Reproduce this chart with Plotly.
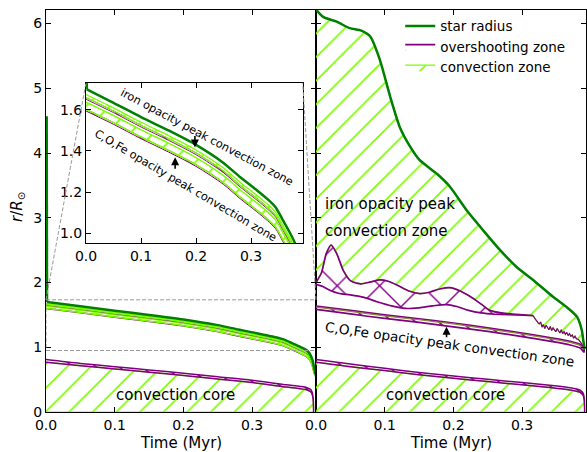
import plotly.graph_objects as go

# ---------------- data ----------------
# Left panel model (also shown magnified in the inset)
t_left = [0.0, 0.05, 0.1, 0.15, 0.2, 0.25, 0.28, 0.31, 0.33, 0.345, 0.358, 0.37, 0.38, 0.385, 0.388, 0.39]
star_left_jump_t = [0.001, 0.0015]
star_left_jump_r = [4.57, 1.70]
star_left_t = [0.0015, 0.05, 0.1, 0.15, 0.2, 0.25, 0.28, 0.31, 0.33, 0.345, 0.358, 0.37, 0.38, 0.385, 0.388, 0.39, 0.392, 0.393]
star_left_r = [1.70, 1.635, 1.565, 1.50, 1.43, 1.342, 1.273, 1.21, 1.165, 1.125, 1.063, 1.005, 0.95, 0.88, 0.80, 0.70, 0.60, 0.55]
fe_top_left = [1.675, 1.61, 1.54, 1.475, 1.405, 1.317, 1.248, 1.185, 1.14, 1.10, 1.038, 0.98, 0.925, 0.855, 0.775, 0.675]
fe_bot_left = [1.66, 1.595, 1.525, 1.46, 1.39, 1.302, 1.233, 1.17, 1.125, 1.085, 1.023, 0.965, 0.91, 0.84, 0.76, 0.66]
fe_ov_left = [1.652, 1.587, 1.517, 1.452, 1.382, 1.294, 1.225, 1.162, 1.117, 1.077, 1.015, 0.957, 0.902, 0.832, 0.752, 0.652]
co_top_left = [1.638, 1.573, 1.503, 1.438, 1.368, 1.28, 1.211, 1.148, 1.103, 1.063, 1.001, 0.943, 0.888, 0.818, 0.738, 0.638]
co_bot_left = [1.603, 1.538, 1.468, 1.403, 1.333, 1.245, 1.176, 1.113, 1.068, 1.028, 0.966, 0.908, 0.853, 0.783, 0.703, 0.603]
co_ov_left = [1.595, 1.53, 1.46, 1.395, 1.325, 1.237, 1.168, 1.105, 1.06, 1.02, 0.958, 0.90, 0.845, 0.775, 0.695, 0.595]
core_left_t = [0.0, 0.05, 0.1, 0.15, 0.2, 0.25, 0.3, 0.35, 0.37, 0.38, 0.386, 0.388, 0.389, 0.3895]
core_ov_left = [0.81, 0.75, 0.70, 0.65, 0.60, 0.545, 0.49, 0.42, 0.395, 0.375, 0.34, 0.28, 0.20, 0.0]
core_cv_left = [0.77, 0.715, 0.665, 0.615, 0.565, 0.51, 0.455, 0.385, 0.36, 0.34, 0.305, 0.25, 0.17, 0.0]

# Right panel model
star_right_t = [0.0, 0.001, 0.011, 0.03, 0.049, 0.066, 0.079, 0.093, 0.108, 0.122, 0.137, 0.151, 0.176, 0.195,
                0.219, 0.243, 0.268, 0.292, 0.316, 0.345, 0.365, 0.38, 0.387, 0.389, 0.391]
star_right_r = [6.4, 6.21, 6.10, 6.03, 5.93, 5.89, 5.80, 5.44, 4.87, 4.40, 4.10, 3.89, 3.68, 3.48,
                3.12, 2.81, 2.50, 2.24, 2.04, 1.78, 1.62, 1.47, 1.26, 1.11, 0.97]
fe_bot_right_t = [0.0, 0.008, 0.015, 0.022, 0.03, 0.04, 0.05, 0.065, 0.08, 0.093, 0.105, 0.12, 0.135, 0.151,
                  0.165, 0.18, 0.195, 0.21, 0.225, 0.24, 0.253, 0.27, 0.29, 0.316]
fe_bot_right = [1.98, 2.15, 2.45, 2.58, 2.45, 2.18, 2.03, 1.98, 2.01, 2.04, 2.02, 1.95, 1.87, 1.83,
                1.85, 1.90, 1.92, 1.87, 1.78, 1.67, 1.57, 1.53, 1.51, 1.49]
ov_bot_right_t = [0.0, 0.01, 0.02, 0.034, 0.05, 0.07, 0.09, 0.11, 0.13, 0.15, 0.17, 0.19, 0.205, 0.222,
                  0.24, 0.26, 0.29, 0.316]
ov_bot_right = [1.98, 1.94, 1.88, 1.83, 1.81, 1.77, 1.70, 1.64, 1.60, 1.61, 1.64, 1.66, 1.63, 1.57,
                1.53, 1.51, 1.50, 1.49]
noise_right_t = [0.316, 0.319, 0.321, 0.323, 0.325, 0.327, 0.329, 0.331, 0.333, 0.335, 0.337, 0.339, 0.341,
                 0.343, 0.345, 0.347, 0.349, 0.351, 0.353, 0.355, 0.357, 0.359, 0.361, 0.363, 0.365,
                 0.367, 0.369, 0.371, 0.373, 0.375, 0.377, 0.379, 0.382, 0.385, 0.387, 0.389]
noise_right = [1.49, 1.43, 1.41, 1.38, 1.36, 1.39, 1.31, 1.35, 1.29, 1.34, 1.30, 1.27, 1.32, 1.26,
               1.30, 1.27, 1.24, 1.29, 1.25, 1.22, 1.27, 1.21, 1.24, 1.20, 1.23, 1.18, 1.21, 1.17,
               1.19, 1.14, 1.17, 1.13, 1.12, 1.08, 1.05, 1.00]
co_right_t = [0.0, 0.05, 0.1, 0.15, 0.2, 0.25, 0.3, 0.34, 0.37, 0.385, 0.39]
co_a_right = [1.635, 1.57, 1.50, 1.44, 1.375, 1.30, 1.22, 1.15, 1.09, 1.04, 0.98]
co_b_right = [1.62, 1.555, 1.485, 1.425, 1.36, 1.285, 1.205, 1.135, 1.075, 1.025, 0.965]
co_c_right = [1.585, 1.515, 1.445, 1.385, 1.315, 1.245, 1.165, 1.095, 1.035, 0.985, 0.925]
core_right_t = [0.0, 0.05, 0.1, 0.15, 0.2, 0.25, 0.3, 0.34, 0.36, 0.375, 0.385, 0.389, 0.3905, 0.391]
core_ov_right = [0.81, 0.74, 0.675, 0.61, 0.555, 0.505, 0.455, 0.415, 0.39, 0.365, 0.335, 0.29, 0.20, 0.0]
core_cv_right = [0.77, 0.70, 0.64, 0.575, 0.52, 0.47, 0.42, 0.38, 0.355, 0.33, 0.30, 0.255, 0.17, 0.0]

# axes / ticks
x_ticks = [0.0, 0.1, 0.2, 0.3]
x_tick_text = ["0.0", "0.1", "0.2", "0.3"]
y_ticks = [0, 1, 2, 3, 4, 5, 6]
y_tick_text = ["0", "1", "2", "3", "4", "5", "6"]
inset_y_ticks = [1.0, 1.2, 1.4, 1.6]
inset_y_text = ["1.0", "1.2", "1.4", "1.6"]
x_range = [0, 0.393]
y_range = [0, 6.21]
inset_x_range = [0, 0.394]
inset_y_range = [0.95, 1.733]

# ---------------- styling ----------------
GREEN = "#008000"
PURPLE = "#800080"
LIME = "#7CFC00"
FONT = "DejaVu Sans"
HATCH = 16.7
SOL = 0.1

fig = go.Figure()


def band(t, upper, lower):
    return list(t) + list(t)[::-1], list(upper) + list(lower)[::-1]


def conv(t, up, lo, xa, ya, show=False, lw=1.5, smooth=True):
    xs, ys = band(t, up, lo)
    fig.add_trace(go.Scatter(
        x=xs, y=ys, xaxis=xa, yaxis=ya, mode="lines", fill="toself",
        fillcolor="rgba(0,0,0,0)",
        fillpattern=dict(shape="/", size=HATCH, solidity=SOL, fgcolor=LIME,
                         bgcolor="rgba(0,0,0,0)", fgopacity=1),
        line=dict(color=LIME, width=lw, shape="spline" if smooth else "linear", smoothing=0.8),
        name="convection zone", showlegend=show, legendrank=3, hoverinfo="skip"))


def over(t, up, lo, xa, ya, show=False, lw=1.5, smooth=True):
    xs, ys = band(t, up, lo)
    fig.add_trace(go.Scatter(
        x=xs, y=ys, xaxis=xa, yaxis=ya, mode="lines", fill="toself",
        fillcolor="rgba(0,0,0,0)",
        fillpattern=dict(shape="\\", size=HATCH, solidity=SOL, fgcolor=PURPLE,
                         bgcolor="rgba(0,0,0,0)", fgopacity=1),
        line=dict(color=PURPLE, width=lw, shape="spline" if smooth else "linear", smoothing=0.8),
        name="overshooting zone", showlegend=show, legendrank=2, hoverinfo="skip"))


def left_model(xa, ya):
    core_zero = [0.0] * len(core_left_t)
    conv(core_left_t, core_cv_left, core_zero, xa, ya, lw=1.2, smooth=False)
    over(core_left_t, core_ov_left, core_cv_left, xa, ya)
    over(t_left, co_bot_left, co_ov_left, xa, ya, lw=1.0)
    conv(t_left, co_top_left, co_bot_left, xa, ya, lw=1.5)
    over(t_left, fe_bot_left, fe_ov_left, xa, ya, lw=0.9)
    conv(t_left, fe_top_left, fe_bot_left, xa, ya, lw=1.3)
    fig.add_trace(go.Scatter(x=star_left_jump_t, y=star_left_jump_r, xaxis=xa, yaxis=ya,
                             mode="lines", line=dict(color=GREEN, width=2.5),
                             showlegend=False, hoverinfo="skip"))
    fig.add_trace(go.Scatter(x=star_left_t, y=star_left_r, xaxis=xa, yaxis=ya, mode="lines",
                             line=dict(color=GREEN, width=2.5, shape="spline", smoothing=0.6),
                             showlegend=False, hoverinfo="skip"))


# left main panel
left_model("x", "y")

# right panel
core_zero_r = [0.0] * len(core_right_t)
conv(core_right_t, core_cv_right, core_zero_r, "x2", "y2", lw=1.2, smooth=False)
over(core_right_t, core_ov_right, core_cv_right, "x2", "y2")
# iron opacity peak convection zone: between its bottom boundary and the surface
fe_x = list(star_right_t) + list(noise_right_t)[::-1] + list(fe_bot_right_t)[::-1]
fe_y = list(star_right_r) + list(noise_right)[::-1] + list(fe_bot_right)[::-1]
fig.add_trace(go.Scatter(
    x=fe_x, y=fe_y, xaxis="x2", yaxis="y2", mode="lines", fill="toself",
    fillcolor="rgba(0,0,0,0)",
    fillpattern=dict(shape="/", size=HATCH, solidity=SOL, fgcolor=LIME,
                     bgcolor="rgba(0,0,0,0)", fgopacity=1),
    line=dict(color=LIME, width=1.2), name="convection zone", showlegend=True,
    legendrank=3, hoverinfo="skip"))
# overshooting zone below the iron zone
ov_x = list(fe_bot_right_t) + list(ov_bot_right_t)[::-1]
ov_y = list(fe_bot_right) + list(ov_bot_right)[::-1]
fig.add_trace(go.Scatter(
    x=ov_x, y=ov_y, xaxis="x2", yaxis="y2", mode="lines", fill="toself",
    fillcolor="rgba(0,0,0,0)",
    fillpattern=dict(shape="x", size=30, solidity=0.09, fgcolor=PURPLE,
                     bgcolor="rgba(0,0,0,0)", fgopacity=1),
    line=dict(color=PURPLE, width=1.7, shape="spline", smoothing=0.8),
    name="overshooting zone", showlegend=True, legendrank=2, hoverinfo="skip"))
fig.add_trace(go.Scatter(x=noise_right_t, y=noise_right, xaxis="x2", yaxis="y2", mode="lines",
                         line=dict(color=PURPLE, width=1.2), showlegend=False, hoverinfo="skip"))
# C,O,Fe zone
over(co_right_t, co_a_right, co_c_right, "x2", "y2", lw=1.7)
fig.add_trace(go.Scatter(x=co_right_t, y=co_b_right, xaxis="x2", yaxis="y2", mode="lines",
                         line=dict(color="#8a8a3a", width=1.2, shape="spline", smoothing=0.8),
                         showlegend=False, hoverinfo="skip"))
fig.add_trace(go.Scatter(x=star_right_t, y=star_right_r, xaxis="x2", yaxis="y2", mode="lines",
                         line=dict(color=GREEN, width=2.5, shape="spline", smoothing=0.6),
                         name="star radius", showlegend=True, legendrank=1, hoverinfo="skip"))

# inset (magnified left model)
left_model("x3", "y3")

# ---------------- axes ----------------
axis_common = dict(showline=True, linecolor="black", linewidth=1, mirror="allticks",
                   ticks="inside", ticklen=5, tickwidth=1, tickcolor="black",
                   showgrid=False, zeroline=False,
                   tickfont=dict(family=FONT, size=14, color="black"))

fig.update_layout(
    xaxis=dict(domain=[0, 0.5], range=x_range, anchor="y", tickvals=x_ticks,
               ticktext=x_tick_text, **axis_common),
    yaxis=dict(domain=[0, 1], range=y_range, anchor="x", tickvals=y_ticks,
               ticktext=y_tick_text, **axis_common),
    xaxis2=dict(domain=[0.5, 1], range=x_range, anchor="y2", tickvals=x_ticks,
                ticktext=x_tick_text, **axis_common),
    yaxis2=dict(domain=[0, 1], range=y_range, anchor="x2", tickvals=y_ticks,
                showticklabels=False, **axis_common),
    xaxis3=dict(domain=[0.0741, 0.4754], range=inset_x_range, anchor="y3", tickvals=x_ticks,
                ticktext=x_tick_text, **axis_common),
    yaxis3=dict(domain=[0.4197, 0.8192], range=inset_y_range, anchor="x3",
                tickvals=inset_y_ticks, ticktext=inset_y_text, **axis_common),
)

# ---------------- zoom indicator ----------------
dash = dict(color="#9a9a9a", width=1, dash="4px,2px")
y_top_paper = inset_y_range[1] / y_range[1]
fig.add_shape(type="rect", xref="x", yref="y", x0=0, x1=inset_x_range[1],
              y0=inset_y_range[0], y1=inset_y_range[1], line=dash, layer="above")
fig.add_shape(type="line", xref="paper", yref="paper", x0=0, y0=y_top_paper,
              x1=0.0741, y1=0.8192, line=dash, layer="above")
fig.add_shape(type="line", xref="paper", yref="paper", x0=0.5, y0=y_top_paper,
              x1=0.4754, y1=0.8192, line=dash, layer="above")


# ---------------- texts ----------------
def txt(text, x, y, xref, yref, size=15, angle=0, xanchor="center"):
    fig.add_annotation(text=text, x=x, y=y, xref=xref, yref=yref, showarrow=False,
                       textangle=angle, xanchor=xanchor, yanchor="middle",
                       font=dict(family=FONT, size=size, color="black"))


txt("convection core", 0.188, 0.26, "x", "y")
txt("convection core", 0.1885, 0.27, "x2", "y2")
txt("iron opacity peak", 0.0095, 3.21, "x2", "y2", xanchor="left")
txt("convection zone", 0.0095, 2.79, "x2", "y2", xanchor="left")
txt("C,O,Fe opacity peak convection zone", 0.1936, 1.046, "x2", "y2", size=13.6, angle=8)
txt("iron opacity peak convection zone", 0.220, 1.466, "x3", "y3", size=11.3, angle=28)
txt("C,O,Fe opacity peak convection zone", 0.1800, 1.230, "x3", "y3", size=11.3, angle=30.5)
txt("Time (Myr)", 0.25, -0.077, "paper", "paper")
txt("Time (Myr)", 0.75, -0.077, "paper", "paper")
txt("<i>r</i>/<i>R</i><sub>⊙</sub>", -0.052, 0.51, "paper", "paper", angle=-90)


def arrow(x, y, xref, yref, ay):
    fig.add_annotation(x=x, y=y, xref=xref, yref=yref, text="", showarrow=True, ax=0, ay=ay,
                       arrowhead=2, arrowsize=1, arrowwidth=1.6, arrowcolor="black")


arrow(0.19, 1.315, "x2", "y2", 12)
arrow(0.198, 1.417, "x3", "y3", -13)
arrow(0.162, 1.37, "x3", "y3", 13)

fig.update_layout(
    width=587, height=452,
    margin=dict(l=46, r=1, t=10, b=40),
    paper_bgcolor="white", plot_bgcolor="white",
    font=dict(family=FONT, size=14, color="black"),
    showlegend=True,
    legend=dict(x=0.656, y=0.998, xanchor="left", yanchor="top", bgcolor="rgba(0,0,0,0)",
                font=dict(family=FONT, size=13.5, color="black"), tracegroupgap=0),
)

fig.write_html("out.html")
